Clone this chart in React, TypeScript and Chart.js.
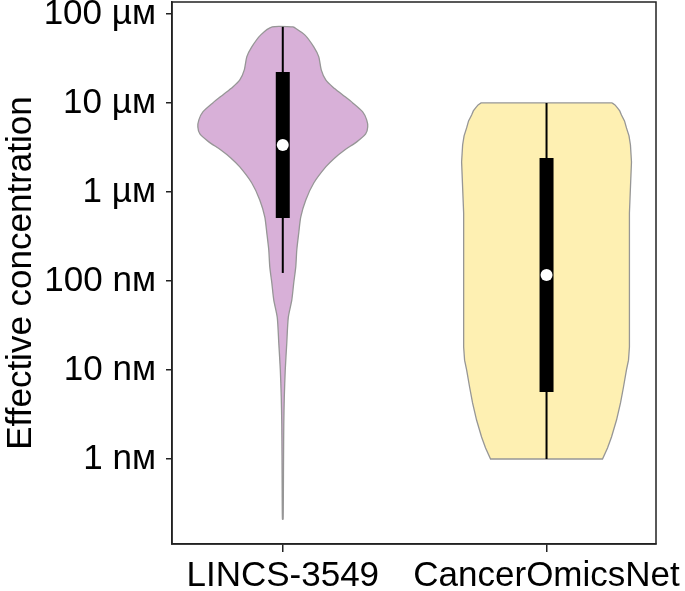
import React, { useEffect, useRef } from 'react';
import { Chart, registerables } from 'chart.js';

Chart.register(...registerables);

// ---- data ----
const categories = ['LINCS-3549', 'CancerOmicsNet'];
const yTickValues = [1, 10, 100, 1000, 10000, 100000]; // nM
const yTickLabels = ['1 nᴍ', '10 nᴍ', '100 nᴍ', '1 µᴍ', '10 µᴍ', '100 µᴍ'];

// violin outlines: concentration levels (nM, top to bottom) and relative density width
const lincsLevels = [71500, 58100, 42600, 32900, 23500, 18100, 15100, 12300, 10000, 7930, 6450, 5370, 4480, 3650, 2960, 2410, 1910, 1260, 813, 524, 346, 223, 144, 95, 61, 39, 20, 10, 5, 2.5, 1.05, 0.45, 0.21];
const lincsDensity = [0.124, 0.259, 0.365, 0.424, 0.453, 0.506, 0.588, 0.706, 0.824, 0.941, 0.988, 1.0, 0.976, 0.871, 0.729, 0.612, 0.506, 0.365, 0.271, 0.212, 0.188, 0.165, 0.153, 0.129, 0.106, 0.065, 0.047, 0.029, 0.018, 0.012, 0.009, 0.007, 0.004];

const cancerLevels = [10000, 9500, 8790, 8130, 7330, 6280, 5240, 4260, 3370, 2170, 581, 103, 18.1, 12.9, 10, 6.44, 4.26, 2.74, 1.77, 1.33, 1];
const cancerDensity = [0.771, 0.806, 0.835, 0.862, 0.882, 0.918, 0.941, 0.971, 0.988, 1.0, 0.976, 0.976, 0.976, 0.965, 0.941, 0.906, 0.871, 0.824, 0.765, 0.718, 0.659];

// box summaries (nM): [whiskerLow, q1, median, q3, whiskerHigh]
const lincsSummary = [123, 510, 3370, 22300, 71500];
const cancerSummary = [1, 5.66, 117, 2410, 10000];

const VIOLIN_HALF = 0.322;

function violinShape(center: number, levels: number[], dens: number[]) {
  const right = levels.map((v, i) => ({ x: center + VIOLIN_HALF * dens[i], y: v }));
  const left = levels.map((v, i) => ({ x: center - VIOLIN_HALF * dens[i], y: v })).reverse();
  const pts = [...right, ...left];
  pts.push({ ...pts[0] });
  return pts;
}

const frame = {
  id: 'frame',
  afterDraw(chart: any) {
    const { ctx, chartArea } = chart;
    ctx.save();
    ctx.strokeStyle = '#222';
    ctx.lineWidth = 1.5;
    ctx.strokeRect(chartArea.left, chartArea.top, chartArea.right - chartArea.left, chartArea.bottom - chartArea.top);
    ctx.restore();
  },
};

export default function App() {
  const ref = useRef<HTMLCanvasElement | null>(null);
  useEffect(() => {
    document.body.style.margin = '0';
    if (!ref.current) return;
    const summaries = [lincsSummary, cancerSummary];
    const datasets: any[] = [];
    const fills = ['rgb(216,176,216)', 'rgb(254,240,178)'];
    const tensions = [0.25, 0];
    const shapes = [violinShape(0, lincsLevels, lincsDensity), violinShape(1, cancerLevels, cancerDensity)];
    shapes.forEach((s, i) => {
      datasets.push({
        type: 'line',
        data: s,
        showLine: true,
        fill: 'shape',
        backgroundColor: fills[i],
        borderColor: 'rgb(150,150,150)',
        borderWidth: 1.3,
        pointRadius: 0,
        tension: tensions[i],
        order: 4,
      });
    });
    summaries.forEach((s, i) => {
      datasets.push({
        type: 'line',
        data: [{ x: i, y: s[0] }, { x: i, y: s[4] }],
        showLine: true,
        borderColor: '#000',
        borderWidth: 2,
        pointRadius: 0,
        fill: false,
        order: 3,
      });
      datasets.push({
        type: 'line',
        data: [{ x: i, y: s[1] }, { x: i, y: s[3] }],
        showLine: true,
        borderColor: '#000',
        borderWidth: 14,
        borderCapStyle: 'butt',
        pointRadius: 0,
        fill: false,
        order: 2,
      });
      datasets.push({
        type: 'scatter',
        data: [{ x: i, y: s[2] }],
        pointRadius: 6,
        pointBackgroundColor: '#fff',
        pointBorderWidth: 0,
        order: 1,
      });
    });

    const font = 'Liberation Sans, Arial, sans-serif';
    const chart = new Chart(ref.current, {
      type: 'scatter',
      data: { datasets },
      plugins: [frame],
      options: {
        animation: false,
        responsive: true,
        maintainAspectRatio: false,
        layout: { autoPadding: false, padding: { top: 2, right: 29, left: 0, bottom: 0 } },
        plugins: { legend: { display: false }, tooltip: { enabled: false } },
        scales: {
          x: {
            type: 'linear',
            min: -0.42,
            max: 1.415,
            afterBuildTicks: (s: any) => { s.ticks = [{ value: 0 }, { value: 1 }]; },
            afterFit: (s: any) => { s.height = 47; s.paddingLeft = 0; s.paddingRight = 0; },
            ticks: {
              callback: (v: any) => categories[Math.round(Number(v))],
              font: { family: font, size: 35 },
              color: '#000',
              padding: 3,
              maxRotation: 0,
              autoSkip: false,
            },
            grid: { drawOnChartArea: false, drawTicks: true, tickLength: 8, color: '#222', lineWidth: 1.5 },
            border: { display: true, color: '#222', width: 1.5 },
          },
          y: {
            type: 'logarithmic',
            min: 0.111,
            max: 136000,
            afterBuildTicks: (s: any) => { s.ticks = yTickValues.map((v) => ({ value: v })); },
            afterFit: (s: any) => { s.width = 172; s.paddingTop = 0; s.paddingBottom = 0; },
            ticks: {
              callback: (v: any) => {
                const idx = yTickValues.findIndex((t) => Math.abs(t - Number(v)) / t < 1e-6);
                return idx >= 0 ? yTickLabels[idx] : '';
              },
              font: { family: font, size: 35 },
              color: '#000',
              padding: 10,
              autoSkip: false,
            },
            grid: { drawOnChartArea: false, drawTicks: true, tickLength: 6, color: '#222', lineWidth: 1.5 },
            border: { display: true, color: '#222', width: 1.5 },
            title: {
              display: true,
              text: 'Effective concentration',
              font: { family: font, size: 35 },
              color: '#000',
              padding: 0,
            },
          },
        },
      },
    } as any);
    return () => chart.destroy();
  }, []);
  return (
    <div style={{ width: 685, height: 591, position: 'relative' }}>
      <canvas ref={ref} />
    </div>
  );
}
